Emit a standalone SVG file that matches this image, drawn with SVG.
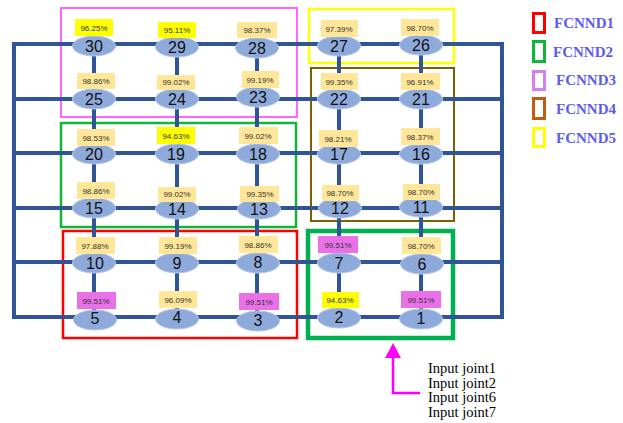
<svg xmlns="http://www.w3.org/2000/svg" width="623" height="423" viewBox="0 0 623 423">
<style>
.frame{fill:none}
.grid line{stroke:#2f5597;stroke-width:4;stroke-linecap:square}
.node ellipse{fill:#8eaadb;stroke:#b4c7e7;stroke-width:1}
.num{font-family:"Liberation Sans",Arial,sans-serif;font-size:16px;fill:#111;text-anchor:middle}
.pct{font-family:"Liberation Sans",Arial,sans-serif;font-size:8px;fill:#333;text-anchor:middle}
.b{fill:#ffe699}
.y{fill:#ffff00}
.p{fill:#ea70e8}
.leg{font-family:"Liberation Serif","Times New Roman",serif;font-weight:bold;font-size:15px;fill:#5b5bf0}
.inp{font-family:"Liberation Serif","Times New Roman",serif;font-size:14.5px;fill:#000}
</style>
<rect width="623" height="423" fill="#fff"/>
<g id="frames">
<rect class="frame" x="61" y="8" width="236" height="109" stroke="#ff66ff" stroke-width="2"/>
<rect class="frame" x="61" y="123" width="235" height="104" stroke="#10b53a" stroke-width="2.5"/>
<rect class="frame" x="63" y="231" width="234" height="107" stroke="#ff0000" stroke-width="2.5"/>
<rect class="frame" x="309" y="9" width="145" height="54" stroke="#ffff00" stroke-width="2.5"/>
<rect class="frame" x="311" y="68" width="143" height="153" stroke="#7f6000" stroke-width="2"/>
<rect class="frame" x="308" y="231" width="145" height="107" stroke="#00b050" stroke-width="4.5"/>
</g>
<g id="connectors" class="grid">
<line x1="14" y1="44" x2="502" y2="44"/>
<line x1="14" y1="99" x2="502" y2="99"/>
<line x1="14" y1="153" x2="502" y2="153"/>
<line x1="14" y1="208" x2="502" y2="208"/>
<line x1="14" y1="262" x2="502" y2="262"/>
<line x1="14" y1="317" x2="502" y2="317"/>
<line x1="14" y1="44" x2="14" y2="317"/>
<line x1="502" y1="44" x2="502" y2="317"/>
<line x1="94" y1="44" x2="94" y2="317"/>
<line x1="177" y1="44" x2="177" y2="317"/>
<line x1="257" y1="44" x2="257" y2="317"/>
<line x1="339" y1="44" x2="339" y2="317"/>
<line x1="421" y1="44" x2="421" y2="317"/>
</g>
<g id="n30" class="node"><ellipse cx="94" cy="46" rx="21.5" ry="10"/><text class="num" x="94" y="52">30</text><rect class="y" x="75" y="19" width="38" height="17"/><text class="pct" x="94" y="30.5">96.25%</text></g>
<g id="n29" class="node"><ellipse cx="177" cy="47" rx="21.5" ry="10"/><text class="num" x="177" y="53">29</text><rect class="y" x="158" y="22" width="38" height="16"/><text class="pct" x="177" y="33">95.11%</text></g>
<g id="n28" class="node"><ellipse cx="257" cy="48" rx="21.5" ry="10"/><text class="num" x="257" y="54">28</text><rect class="b" x="237" y="22" width="40" height="16"/><text class="pct" x="257" y="33">98.37%</text></g>
<g id="n27" class="node"><ellipse cx="339" cy="46" rx="21.5" ry="10"/><text class="num" x="339" y="52">27</text><rect class="b" x="321" y="20" width="37" height="17"/><text class="pct" x="339" y="31.5">97.39%</text></g>
<g id="n26" class="node"><ellipse cx="421" cy="45" rx="21.5" ry="10"/><text class="num" x="421" y="51">26</text><rect class="b" x="401" y="19" width="38" height="17"/><text class="pct" x="420" y="30.5">98.70%</text></g>

<g id="n25" class="node"><ellipse cx="94" cy="99" rx="21.5" ry="10"/><text class="num" x="94" y="105">25</text><rect class="b" x="77" y="73" width="38" height="16"/><text class="pct" x="96" y="84">98.86%</text></g>
<g id="n24" class="node"><ellipse cx="177" cy="99" rx="21.5" ry="10"/><text class="num" x="177" y="105">24</text><rect class="b" x="157" y="75" width="38" height="15"/><text class="pct" x="176" y="85">99.02%</text></g>
<g id="n23" class="node"><ellipse cx="258" cy="97" rx="21.5" ry="10"/><text class="num" x="258" y="103">23</text><rect class="b" x="242" y="71" width="37" height="17"/><text class="pct" x="260" y="82.5">99.19%</text></g>
<g id="n22" class="node"><ellipse cx="339" cy="99" rx="21.5" ry="10"/><text class="num" x="339" y="105">22</text><rect class="b" x="321" y="73" width="37" height="17"/><text class="pct" x="339" y="84.5">99.35%</text></g>
<g id="n21" class="node"><ellipse cx="421" cy="99" rx="21.5" ry="10"/><text class="num" x="421" y="105">21</text><rect class="b" x="401" y="73" width="39" height="17"/><text class="pct" x="420" y="84.5">96.91%</text></g>

<g id="n20" class="node"><ellipse cx="94" cy="154" rx="21.5" ry="10"/><text class="num" x="94" y="160">20</text><rect class="b" x="77" y="129" width="38" height="17"/><text class="pct" x="96" y="140.5">98.53%</text></g>
<g id="n19" class="node"><ellipse cx="177" cy="154" rx="21.5" ry="10"/><text class="num" x="176" y="160">19</text><rect class="y" x="157" y="127" width="38" height="17"/><text class="pct" x="176" y="138.5">94.63%</text></g>
<g id="n18" class="node"><ellipse cx="258" cy="154" rx="21.5" ry="10"/><text class="num" x="258" y="160">18</text><rect class="b" x="239" y="127" width="39" height="17"/><text class="pct" x="258" y="138.5">99.02%</text></g>
<g id="n17" class="node"><ellipse cx="339" cy="154" rx="21.5" ry="10"/><text class="num" x="339" y="160">17</text><rect class="b" x="319" y="130" width="39" height="17"/><text class="pct" x="338" y="141.5">98.21%</text></g>
<g id="n16" class="node"><ellipse cx="421" cy="154" rx="21.5" ry="10"/><text class="num" x="421" y="160">16</text><rect class="b" x="401" y="128" width="39" height="17"/><text class="pct" x="420" y="139.5">98.37%</text></g>

<g id="n15" class="node"><ellipse cx="94" cy="208" rx="21.5" ry="10"/><text class="num" x="94" y="214">15</text><rect class="b" x="77" y="182" width="38" height="17"/><text class="pct" x="96" y="193.5">98.86%</text></g>
<g id="n14" class="node"><ellipse cx="177" cy="209" rx="21.5" ry="10"/><text class="num" x="177" y="215">14</text><rect class="b" x="158" y="187" width="38" height="15"/><text class="pct" x="177" y="197">99.02%</text></g>
<g id="n13" class="node"><ellipse cx="259" cy="209" rx="21.5" ry="10"/><text class="num" x="259" y="215">13</text><rect class="b" x="240" y="186" width="39" height="16"/><text class="pct" x="260" y="197">99.35%</text></g>
<g id="n12" class="node"><ellipse cx="340" cy="208" rx="21.5" ry="10"/><text class="num" x="340" y="214">12</text><rect class="b" x="322" y="185" width="37" height="16"/><text class="pct" x="340" y="196">98.70%</text></g>
<g id="n11" class="node"><ellipse cx="421" cy="207" rx="21.5" ry="10"/><text class="num" x="421" y="213">11</text><rect class="b" x="403" y="184" width="37" height="16"/><text class="pct" x="421" y="195">98.70%</text></g>

<g id="n10" class="node"><ellipse cx="94" cy="263" rx="21.5" ry="10"/><text class="num" x="95" y="269">10</text><rect class="b" x="76" y="237" width="39" height="17"/><text class="pct" x="95" y="248.5">97.88%</text></g>
<g id="n9" class="node"><ellipse cx="177" cy="263" rx="21.5" ry="10"/><text class="num" x="177" y="269">9</text><rect class="b" x="159" y="237" width="38" height="17"/><text class="pct" x="178" y="248.5">99.19%</text></g>
<g id="n8" class="node"><ellipse cx="258" cy="263" rx="21.5" ry="10"/><text class="num" x="258" y="268">8</text><rect class="b" x="239" y="236" width="39" height="17"/><text class="pct" x="258" y="247.5">98.86%</text></g>
<g id="n7" class="node"><ellipse cx="339" cy="263" rx="21.5" ry="10"/><text class="num" x="339" y="269">7</text><rect class="p" x="318" y="236" width="40" height="17"/><text class="pct" x="338" y="247.5">99.51%</text></g>
<g id="n6" class="node"><ellipse cx="422" cy="264" rx="21.5" ry="10"/><text class="num" x="422" y="270">6</text><rect class="b" x="402" y="237" width="39" height="17"/><text class="pct" x="421" y="248.5">98.70%</text></g>

<g id="n5" class="node"><ellipse cx="95" cy="320" rx="21.5" ry="10"/><text class="num" x="95" y="324">5</text><rect class="p" x="77" y="292" width="39" height="17"/><text class="pct" x="96" y="303.5">99.51%</text></g>
<g id="n4" class="node"><ellipse cx="177" cy="319" rx="21.5" ry="10"/><text class="num" x="177" y="323">4</text><rect class="b" x="159" y="291" width="38" height="17"/><text class="pct" x="178" y="302.5">96.09%</text></g>
<g id="n3" class="node"><ellipse cx="258" cy="321" rx="21.5" ry="10"/><text class="num" x="258" y="326">3</text><rect class="p" x="239" y="293" width="40" height="17"/><text class="pct" x="259" y="304.5">99.51%</text></g>
<g id="n2" class="node"><ellipse cx="339" cy="318" rx="21.5" ry="10"/><text class="num" x="339" y="323">2</text><rect class="y" x="322" y="292" width="37" height="16"/><text class="pct" x="340" y="303">94.63%</text></g>
<g id="n1" class="node"><ellipse cx="421" cy="319" rx="21.5" ry="10"/><text class="num" x="421" y="324">1</text><rect class="p" x="401" y="291" width="40" height="17"/><text class="pct" x="421" y="302.5">99.51%</text></g>

<g id="legend">
<rect x="533.5" y="13.5" width="11" height="19" fill="none" stroke="#ff0000" stroke-width="3"/>
<text class="leg" x="554" y="28">FCNND1</text>
<rect x="533.5" y="41.5" width="11" height="20" fill="none" stroke="#10b53a" stroke-width="3"/>
<text class="leg" x="553" y="57">FCNND2</text>
<rect x="533.5" y="71.5" width="11" height="18" fill="none" stroke="#d67ff0" stroke-width="3"/>
<text class="leg" x="556" y="85">FCNND3</text>
<rect x="533.5" y="98.5" width="11" height="20" fill="none" stroke="#c55a11" stroke-width="3"/>
<text class="leg" x="556" y="114">FCNND4</text>
<rect x="533.5" y="128.5" width="11" height="18" fill="none" stroke="#ffff00" stroke-width="3"/>
<text class="leg" x="556" y="143">FCNND5</text>
</g>
<g id="input">
<polyline points="420,393 393,393 393,356" fill="none" stroke="#ff00ff" stroke-width="2.5"/>
<polygon points="393,343 385,358 401,358" fill="#ff00ff"/>
<text class="inp" x="428" y="373">Input joint1</text>
<text class="inp" x="428" y="387.5">Input joint2</text>
<text class="inp" x="428" y="402">Input joint6</text>
<text class="inp" x="428" y="416.5">Input joint7</text>
</g>
</svg>
